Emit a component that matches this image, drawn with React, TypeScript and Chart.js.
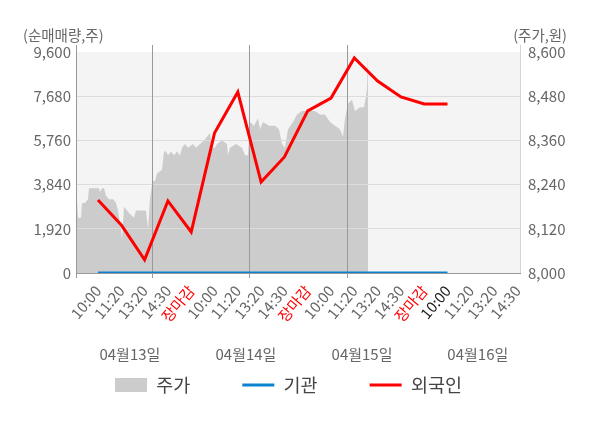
import { useEffect, useRef } from 'react';
import { Chart, registerables } from 'chart.js';

Chart.register(...registerables);

const FONT = "'Noto Sans CJK KR', 'Noto Sans', sans-serif";

// tick labels of the trading-time axis (net buying series)
const timeLabels = [
  '10:00', '11:20', '13:20', '14:30', '장마감',
  '10:00', '11:20', '13:20', '14:30', '장마감',
  '10:00', '11:20', '13:20', '14:30', '장마감',
  '10:00', '11:20', '13:20', '14:30',
];
const dayLabels = ['04월13일', '04월14일', '04월15일', '04월16일'];
const dayLabelPos = [1.37, 6.35, 11.33, 16.3];

// net buying (주)
const foreignNet = [3170, 2090, 570, 3130, 1780, 6080, 7860, 3950, 5040, 7040, 7600, 9340, 8340, 7650, 7340, 7340];
const institutionNet = [0, 0, 0, 0, 0, 0, 0, 0, 0, 0, 0, 0, 0, 0, 0, 0];

// intraday price (원): elapsed trading minutes / price
const priceMinutes = [
  0, 4, 8, 20, 24, 36, 48, 52, 92, 96, 104, 112, 120, 132, 148, 160, 168, 180, 184, 192, 204, 216, 232, 240, 280, 288, 296, 304,
  308, 316, 324, 344, 352, 360, 368, 380, 392, 404, 416, 424, 436, 448, 468, 480, 496, 512, 524, 536, 544, 556, 564, 584, 604, 608, 616, 640, 664, 676, 688,
  696, 712, 728, 736, 748, 772, 796, 812, 824, 836, 848, 868, 884, 904, 930, 956, 976, 996, 1016, 1036, 1056, 1068, 1076,
  1088, 1104, 1116, 1136, 1152, 1160, 1164, 1168,
];
const prices = [
  8200, 8200, 8150, 8150, 8190, 8190, 8200, 8230, 8230, 8220, 8230, 8230, 8210, 8200, 8200, 8190, 8170, 8120, 8090, 8180, 8170, 8160, 8150, 8170, 8170, 8120, 8200, 8240,
  8250, 8250, 8270, 8280, 8330, 8330, 8320, 8330, 8320, 8330, 8320, 8340, 8350, 8340, 8350, 8340, 8350, 8360, 8370, 8380, 8340, 8340, 8350, 8360, 8350, 8320, 8340, 8350, 8340, 8320, 8320,
  8410, 8400, 8420, 8390, 8410, 8400, 8400, 8390, 8350, 8340, 8390, 8410, 8430, 8440, 8440, 8440, 8430, 8430, 8410, 8400, 8390, 8370, 8420,
  8460, 8470, 8440, 8450, 8450, 8480, 8500, 8590,
];
const sessionBreaks = [0, 304, 692, 1084, 1776];

const leftTitle = '(순매매량,주)';
const rightTitle = '(주가,원)';

const fmt = (v: number) => Number(v).toLocaleString('en-US');

const bgPlugin = {
  id: 'plotBg',
  beforeDraw(chart: any) {
    const { ctx, chartArea } = chart;
    ctx.save();
    ctx.fillStyle = '#f4f4f4';
    ctx.fillRect(chartArea.left, chartArea.top, chartArea.width, chartArea.height);
    ctx.restore();
  },
};

const gridOverAreaPlugin = {
  id: 'gridOverArea',
  afterDatasetDraw(chart: any, args: any) {
    if (args.index === 0) {
      chart.scales.y.drawGrid(chart.chartArea);
      chart.scales.xa.drawGrid(chart.chartArea);
      chart.scales.xa.drawBorder();
    }
  },
};

const legendShiftPlugin = {
  id: 'legendShift',
  afterLayout(chart: any) {
    const lg = chart.legend;
    if (lg) {
      lg.left -= 10.5;
      lg.right -= 10.5;
      lg.top -= 8.25;
      lg.bottom -= 8.25;
    }
  },
};

const titlesPlugin = {
  id: 'axisTitles',
  afterDraw(chart: any) {
    const { ctx, chartArea, scales } = chart;
    ctx.save();
    ctx.font = `14.5px ${FONT}`;
    ctx.fillStyle = '#666';
    ctx.textBaseline = 'middle';
    ctx.textAlign = 'left';
    ctx.fillText(leftTitle, scales.y.left - 8, chartArea.top - 17);
    ctx.textAlign = 'right';
    ctx.fillText(rightTitle, scales.y1.right, chartArea.top - 17);
    ctx.restore();
  },
};

export default function App() {
  const ref = useRef<HTMLCanvasElement | null>(null);

  useEffect(() => {
    if (!ref.current) return;
    Chart.defaults.font.family = FONT;
    const breakGridColor = (c: any) => (c.index === sessionBreaks.length - 1 ? '#d4d4d4' : '#999999');
    const chart = new Chart(ref.current, {
      type: 'line',
      data: {
        datasets: [
          {
            label: '주가',
            data: priceMinutes.map((m, i) => ({ x: m, y: prices[i] })),
            xAxisID: 'xa',
            yAxisID: 'y1',
            fill: 'start',
            backgroundColor: '#cccccc',
            borderColor: 'rgba(0,0,0,0)',
            borderWidth: 0,
            pointRadius: 0,
            pointStyle: 'rect',
            pointBackgroundColor: '#cccccc',
            pointBorderWidth: 0,
            tension: 0,
            order: 3,
          },
          {
            label: '기관',
            data: institutionNet.map((v, i) => ({ x: i, y: v })),
            xAxisID: 'x',
            yAxisID: 'y',
            borderColor: '#0b82cf',
            backgroundColor: '#0b82cf',
            borderWidth: 3,
            pointRadius: 0,
            pointStyle: 'line',
            pointBorderColor: '#0b82cf',
            pointBorderWidth: 3,
            fill: false,
            tension: 0,
            order: 2,
          },
          {
            label: '외국인',
            data: foreignNet.map((v, i) => ({ x: i, y: v })),
            xAxisID: 'x',
            yAxisID: 'y',
            borderColor: '#ff0000',
            backgroundColor: '#ff0000',
            borderWidth: 3,
            pointRadius: 0,
            pointStyle: 'line',
            pointBorderColor: '#ff0000',
            pointBorderWidth: 3,
            fill: false,
            tension: 0,
            order: 1,
          },
        ],
      },
      options: {
        animation: false,
        responsive: false,
        layout: { padding: { left: 31, right: 33, top: 45, bottom: 15.5 } },
        plugins: {
          legend: {
            position: 'bottom',
            labels: {
              usePointStyle: true,
              pointStyleWidth: 32,
              boxHeight: 14,
              padding: 52,
              color: '#444',
              font: { size: 18.5, family: FONT },
              sort: (a: any, b: any) => a.datasetIndex - b.datasetIndex,
            },
          },
          tooltip: { enabled: false },
        },
        scales: {
          xt: {
            type: 'linear',
            position: 'top',
            min: 0,
            max: 1776,
            weight: 0,
            afterBuildTicks: (s: any) => { s.ticks = sessionBreaks.map((v) => ({ value: v })); },
            ticks: { display: false },
            grid: { drawOnChartArea: false, tickLength: 7, color: breakGridColor },
            border: { display: false },
          },
          xa: {
            type: 'linear',
            position: 'bottom',
            min: 0,
            max: 1776,
            weight: 0,
            afterBuildTicks: (s: any) => { s.ticks = sessionBreaks.map((v) => ({ value: v })); },
            ticks: { display: false },
            grid: {
              tickLength: 5,
              color: breakGridColor,
              tickColor: (c: any) => (c.index === sessionBreaks.length - 1 ? 'rgba(0,0,0,0)' : '#999999'),
            },
            border: { display: true, color: '#999999' },
          },
          x: {
            type: 'linear',
            position: 'bottom',
            min: -0.944,
            max: 18.11,
            weight: 1,
            afterBuildTicks: (s: any) => { s.ticks = timeLabels.map((_, i) => ({ value: i })); },
            afterFit: (s: any) => { s.height = 54; },
            ticks: {
              autoSkip: false,
              minRotation: 50,
              maxRotation: 50,
              padding: 4,
              font: { size: 15, family: FONT },
              color: (c: any) => (timeLabels[c.index] === '장마감' ? '#ff0000' : c.index === 15 ? '#222222' : '#666666'),
              callback: (v: any) => timeLabels[v],
            },
            grid: { display: false, drawTicks: false },
            border: { display: false },
          },
          xd: {
            type: 'linear',
            position: 'bottom',
            min: -0.944,
            max: 18.11,
            weight: 2,
            afterBuildTicks: (s: any) => { s.ticks = dayLabelPos.map((v) => ({ value: v })); },
            afterFit: (s: any) => { s.height = 0; },
            ticks: {
              autoSkip: false,
              maxRotation: 0,
              minRotation: 0,
              mirror: true,
              padding: -31,
              font: { size: 15, family: FONT },
              color: '#666666',
              callback: (_v: any, i: number) => dayLabels[i],
            },
            grid: { display: false, drawTicks: false },
            border: { display: false },
          },
          y: {
            type: 'linear',
            position: 'left',
            min: 0,
            max: 9600,
            afterFit: (s: any) => { s.width = 45; },
            ticks: { stepSize: 1920, padding: 5, color: '#666666', font: { size: 15, family: FONT }, callback: (v: any) => fmt(v) },
            grid: {
              drawTicks: false,
              color: (c: any) => (c.tick && (c.tick.value === 0 || c.tick.value === 9600) ? 'rgba(0,0,0,0)' : '#dcdcdc'),
            },
            border: { display: false },
          },
          y1: {
            type: 'linear',
            position: 'right',
            min: 8000,
            max: 8600,
            afterFit: (s: any) => { s.width = 47; },
            ticks: { stepSize: 120, padding: 8, color: '#666666', font: { size: 15, family: FONT }, callback: (v: any) => fmt(v) },
            grid: { display: false, drawTicks: false },
            border: { display: false },
          },
        },
      } as any,
      plugins: [bgPlugin, gridOverAreaPlugin, legendShiftPlugin, titlesPlugin],
    });
    return () => chart.destroy();
  }, []);

  return (
    <div style={{ position: 'absolute', left: 0, top: 0, width: 600, height: 428, background: '#fff' }}>
      <canvas ref={ref} width={600} height={428} />
    </div>
  );
}
